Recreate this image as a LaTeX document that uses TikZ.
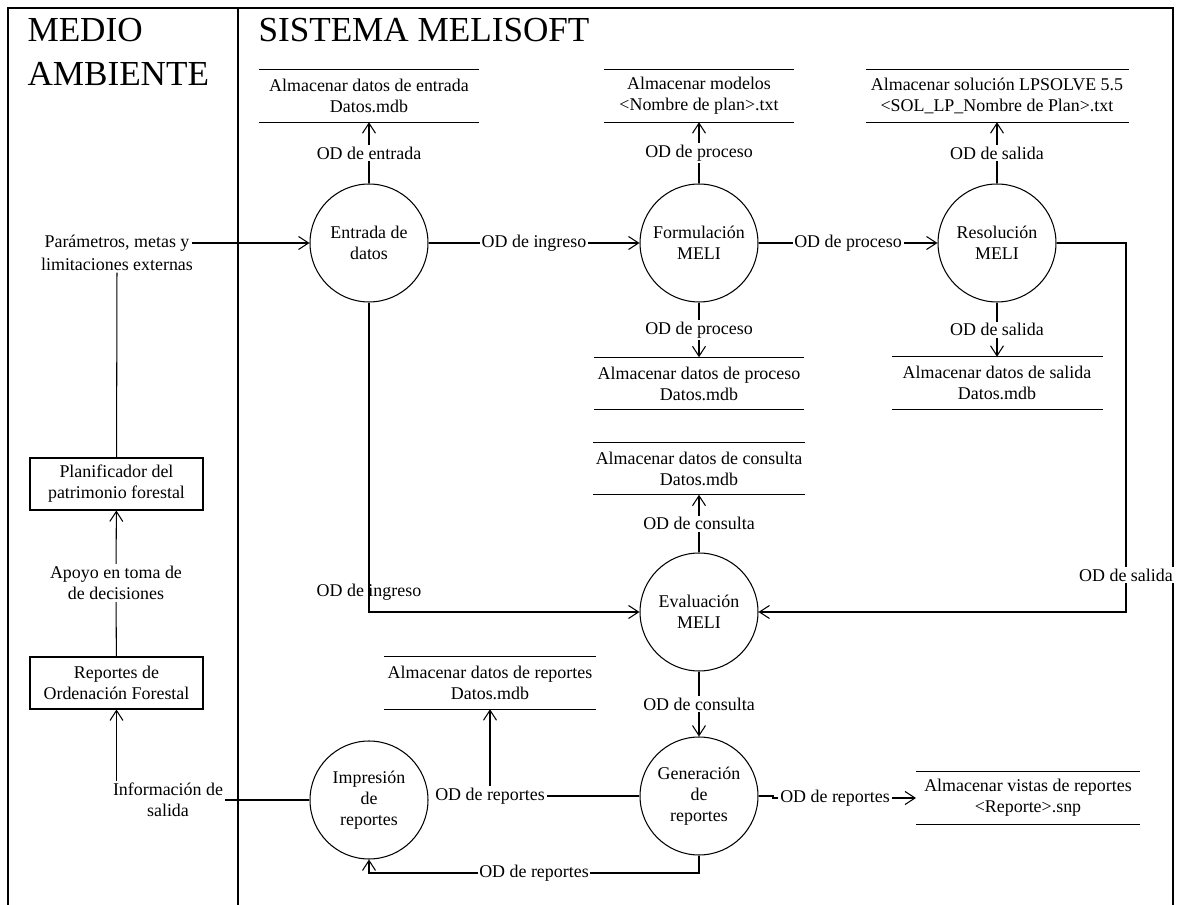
\documentclass[tikz,border=0pt]{standalone}
\usepackage{fontspec}
\setmainfont{Liberation Serif}
\usetikzlibrary{arrows.meta}
% top and bottom rules of a data store
\newcommand\storelines[1]{\draw (#1.north west) -- (#1.north east) (#1.south west) -- (#1.south east);}
\begin{document}
\begin{tikzpicture}[x=0.02cm,y=-0.02cm,
  line width=0.6pt,
  every node/.style={font=\fontsize{10.2}{12}\selectfont},
  proc/.style={circle,draw,minimum size=2.36cm,inner sep=0pt,align=center},
  store/.style={minimum height=1.03cm,inner xsep=0pt,inner ysep=0pt,align=center},
  ent/.style={draw,minimum width=3.46cm,minimum height=1.04cm,inner sep=0pt,align=center},
  lbl/.style={fill=white,inner sep=1pt},
  txt/.style={inner sep=1pt,align=center},
  arr/.style={-{Straight Barb[length=2mm,width=2.6mm]}},
  title/.style={font=\fontsize{20}{25}\selectfont,inner sep=0pt,align=left,anchor=north west}]
\useasboundingbox (0,0) rectangle (1181,905);

% frame and lane divider
\draw (8,905) -- (8,8) -- (1173,8) -- (1173,905);
\draw (238,8) -- (238,905);
\node[title] (tEnv) at (27,18) {MEDIO\\AMBIENTE};
\node[title] (tSys) at (258,18) {SISTEMA MELISOFT};

% processes
\node[proc] (C1) at (369,243) {Entrada de\\datos};
\node[proc] (C2) at (699,243) {Formulación\\MELI};
\node[proc] (C3) at (997,243) {Resolución\\MELI};
\node[proc] (C4) at (699,612) {Evaluación\\MELI};
\node[proc] (C5) at (699,796) {Generación\\de\\reportes};
\node[proc] (C6) at (369,800) {Impresión\\de\\reportes};

% data stores
\node[store,minimum width=4.36cm] (S1) at (369,96) {Almacenar datos de entrada\\Datos.mdb};
\node[store,minimum width=3.76cm] (S2) at (699,96) {Almacenar modelos\\<Nombre de plan>.txt};
\node[store,minimum width=5.24cm] (S3) at (997,96) {Almacenar solución LPSOLVE 5.5\\<SOL\_LP\_Nombre de Plan>.txt};
\node[store,minimum width=4.16cm] (S4) at (699,383.5) {Almacenar datos de proceso\\Datos.mdb};
\node[store,minimum width=4.2cm] (S5) at (997,383) {Almacenar datos de salida\\Datos.mdb};
\node[store,minimum width=4.2cm] (S6) at (699,468.5) {Almacenar datos de consulta\\Datos.mdb};
\node[store,minimum width=4.22cm] (S7) at (490,683) {Almacenar datos de reportes\\Datos.mdb};
\node[store,minimum width=4.46cm] (S8) at (1028,798) {Almacenar vistas de reportes\\<Reporte>.snp};
\foreach \s in {S1,S2,S3,S4,S5,S6,S7,S8} {\storelines{\s}}

% external entities and flows of the environment
\node[ent] (plan) at (116.5,484) {Planificador del\\patrimonio forestal};
\node[ent] (rep) at (116.5,683) {Reportes de\\Ordenación Forestal};
\node[txt] (p1) at (117,243) {Parámetros, metas y};
\node[txt] (p2) at (117,264) {limitaciones externas};
\node[txt] (apoyo) at (116,583) {Apoyo en toma de\\de decisiones};
\node[txt] (info) at (168,800) {Información de\\salida};

\draw[arr] (p1) -- (C1);
\draw (plan) -- (p2);
\draw[arr] (apoyo) -- (plan);
\draw (rep) -- (apoyo);
\draw[arr] (info.north -| rep.south) -- (rep);
\draw (C6) -- (info);

% flows inside the system
\draw[arr] (C1) -- node[lbl] {OD de entrada} (S1);
\draw[arr] (C2) -- node[lbl] {OD de proceso} (S2);
\draw[arr] (C3) -- node[lbl] {OD de salida} (S3);
\draw[arr] (C1) -- node[lbl] {OD de ingreso} (C2);
\draw[arr] (C2) -- node[lbl] {OD de proceso} (C3);
\draw[arr] (C2) -- node[lbl] {OD de proceso} (S4);
\draw[arr] (C3) -- node[lbl] {OD de salida} (S5);
\draw[arr] (C4) -- node[lbl] {OD de consulta} (S6);
\draw[arr] (C1) |- node[txt,pos=0.468] {OD de ingreso} (C4);
\coordinate (kR) at (1126,243);
\draw[arr] (C3) -- (kR) |- node[lbl,pos=0.45] {OD de salida} (C4);
\draw[arr] (C4) -- node[lbl] {OD de consulta} (C5);
\node[lbl] (lRep1) at (490,796) {OD de reportes};
\draw[arr] (C5) -- (lRep1) -- (S7);
\node[lbl] (lRep2) at (835,798) {OD de reportes};
\coordinate (jog) at (773,796);
\draw[arr] (C5) -- (jog) |- (lRep2) -- (S8);
\coordinate (yb) at (0,873);
\draw[arr] (C5) -- (C5 |- yb) -- node[lbl] {OD de reportes} (C6 |- yb) -- (C6);
\end{tikzpicture}
\end{document}
